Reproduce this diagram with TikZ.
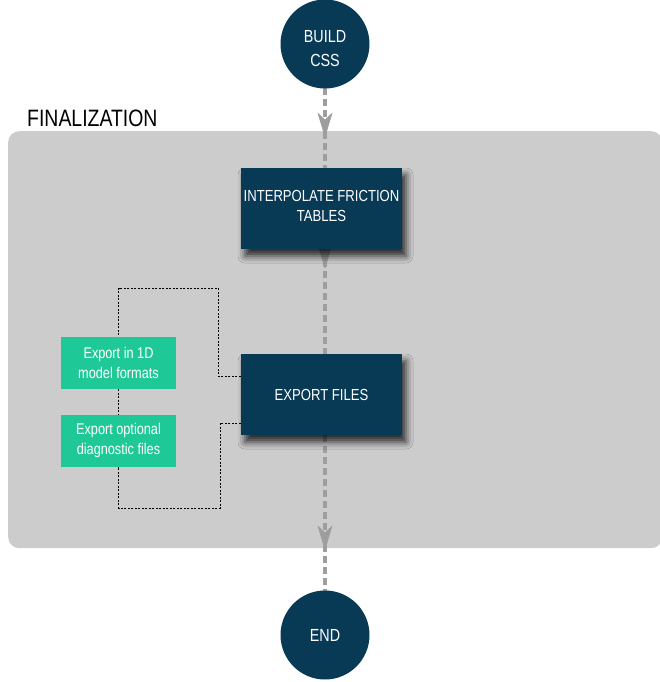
\documentclass[tikz,border=0pt]{standalone}
\usepackage{fontspec}
\setmainfont{Liberation Sans}[FakeStretch=0.82]
\usetikzlibrary{arrows.meta,shadows.blur,decorations.markings}
\definecolor{navy}{HTML}{083A56}
\definecolor{mint}{HTML}{1FC997}
\definecolor{groupgray}{HTML}{CCCCCC}
\definecolor{flowgray}{HTML}{9E9E9E}
\pgfdeclarelayer{grouplayer}
\pgfdeclarelayer{bglayer}
\pgfsetlayers{grouplayer,bglayer,main}
\newcommand{\stacktwo}[3]{\raisebox{#3}[\height][\depth]{\begin{tabular}{@{}c@{}}#1\\#2\end{tabular}}}
\begin{document}
\begin{tikzpicture}[x=1pt,y=-1pt,
  terminal/.style={circle, fill=navy, minimum size=89pt, inner sep=0pt, text=white,
    font=\fontsize{17.5}{24}\selectfont, align=center},
  procbox/.style={rectangle, fill=navy, minimum width=161pt, minimum height=81pt, inner sep=0pt,
    text=white, font=\fontsize{16}{20}\selectfont, align=center,
    blur shadow={shadow xshift=4pt, shadow yshift=-7pt, shadow blur radius=7pt, shadow opacity=80}},
  subbox/.style={rectangle, fill=mint, minimum width=115pt, minimum height=52pt, inner sep=0pt,
    text=white, font=\fontsize{15.5}{20}\selectfont, align=center},
  flow/.style={draw=flowgray, line width=3.5pt, dash pattern=on 7pt off 4pt},
  headat/.style={postaction={decorate, decoration={markings,
    mark=at position #1 with {\arrow[flowgray, line width=0.5pt]{Stealth[length=25pt, width=15pt, inset=7pt]}}}}},
  link/.style={draw=black, line width=0.7pt, dash pattern=on 2pt off 1.5pt},
]
\useasboundingbox (0,0) rectangle (659,682);

% nodes
\node[terminal] (build) at (325,44) {\stacktwo{BUILD}{CSS}{-5.5pt}};
\node[procbox] (interp) at (321.5,208.5) {\stacktwo{INTERPOLATE FRICTION}{TABLES}{1pt}};
\node[procbox] (export) at (321.5,394.5) {EXPORT FILES};
\node[subbox] (subA) at (118.5,363) {Export in 1D\\model formats};
\node[subbox] (subB) at (118.5,440.5) {Export optional\\diagnostic files};
\node[terminal] (endnode) at (325,635) {END};

% group
\begin{pgfonlayer}{grouplayer}
  \node[fill=groupgray, rounded corners=11pt, minimum width=654pt, minimum height=417pt,
        inner sep=0pt, anchor=north west] (group) at (8,131) {};
  \node[anchor=base west, inner sep=0pt, font=\fontsize{23.7}{26}\selectfont] (grouplabel)
        at (27,126) {FINALIZATION};
\end{pgfonlayer}

% connectors
\begin{pgfonlayer}{bglayer}
  \coordinate (c1a) at (325,88);
  \coordinate (c1b) at (325,168);
  \coordinate (c2a) at (325,249);
  \coordinate (c2b) at (325,354);
  \coordinate (c3a) at (325,435);
  \coordinate (c3b) at (325,591);
  \draw[flow, headat=0.62] (c1a) -- (c1b);
  \draw[flow, headat=0.19] (c2a) -- (c2b);
  \draw[flow, headat=0.74] (c3a) -- (c3b);
  \draw[link] ([yshift=18.5pt]export.west) -| (218,288) -| (subB.north);
  \draw[link] ([yshift=-28.5pt]export.west) -| (220,508) -| (subB.south);
\end{pgfonlayer}
\end{tikzpicture}
\end{document}
